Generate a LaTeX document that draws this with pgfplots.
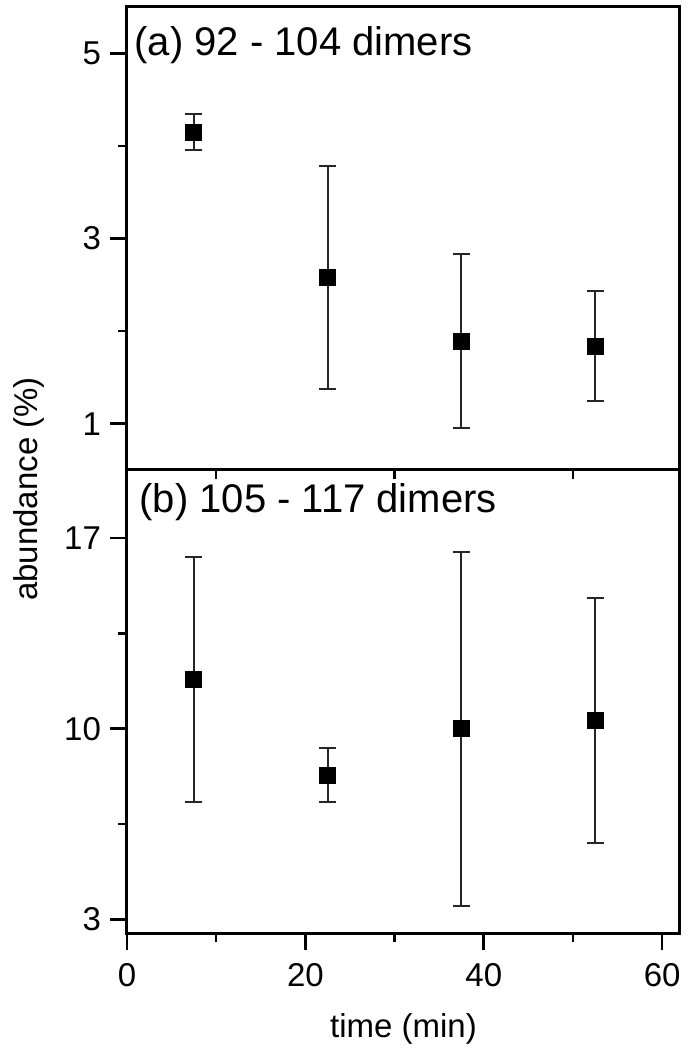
\documentclass[border=0pt]{standalone}
\usepackage{fontspec}
\setmainfont{Liberation Sans}
\usepackage{pgfplots}
\pgfplotsset{compat=1.18}

\pgfplotsset{
  panel/.style={
    width=276.5pt, height=231.5pt, scale only axis,
    xmin=0, xmax=62,
    axis line style={line width=1.5pt},
    tick style={line width=1.3pt, black},
    tick align=outside,
    major tick length=8.5pt, minor tick length=4.5pt,
    xtick={0,20,40,60}, minor xtick={10,30,50},
    xtick pos=bottom, ytick pos=left,
    ticklabel style={font=\fontsize{16.5}{18}\selectfont},
    yticklabel style={xshift=-1pt},
    xticklabel style={yshift=-3pt},
    /pgf/number format/assume math mode=true,
  },
  pts/.style={
    only marks, mark=square*, mark size=4pt,
    mark options={draw=black, fill=black},
    error bars/.cd, y dir=both, y explicit,
    error mark=-,
    error bar style={line width=1pt, black!85},
    error mark options={rotate=90, mark size=4.25pt, line width=1pt, black!85},
  },
}

\begin{document}
\begin{tikzpicture}
\path[use as bounding box] (-63.5pt,-58.5pt) rectangle (281.5pt,466.5pt);

% (b) bottom panel
\begin{axis}[panel, at={(0,0)}, anchor=south west,
  ymin=2.5, ymax=19.5, ytick={3,10,17}, minor ytick={6.5,13.5}]
\addplot[pts] coordinates {
  (7.5,11.8)  +- (0,4.5)
  (22.5,8.3)  +- (0,1.0)
  (37.5,10.0) +- (0,6.5)
  (52.5,10.3) +- (0,4.5)
};
\node[anchor=west, inner sep=0pt, font=\fontsize{20}{22}\selectfont]
  at (rel axis cs:0.022,0.93) {(b) 105 - 117 dimers};
\end{axis}

% (a) top panel
\begin{axis}[panel, at={(0,231.5pt)}, anchor=south west,
  xmajorticks=false, xminorticks=false,
  ymin=0.5, ymax=5.5, ytick={1,3,5}, minor ytick={2,4}]
\addplot[pts] coordinates {
  (7.5,4.15)  +- (0,0.19)
  (22.5,2.58) +- (0,1.2)
  (37.5,1.89) +- (0,0.94)
  (52.5,1.84) +- (0,0.59)
};
\node[anchor=west, inner sep=0pt, font=\fontsize{20}{22}\selectfont]
  at (rel axis cs:0.013,0.918) {(a) 92 - 104 dimers};
\end{axis}

\node[rotate=90, font=\fontsize{16.5}{18}\selectfont] at (-49pt,222pt) {abundance (\%)};
\node[font=\fontsize{16.5}{18}\selectfont] at (138.25pt,-48pt) {time (min)};
\end{tikzpicture}
\end{document}
